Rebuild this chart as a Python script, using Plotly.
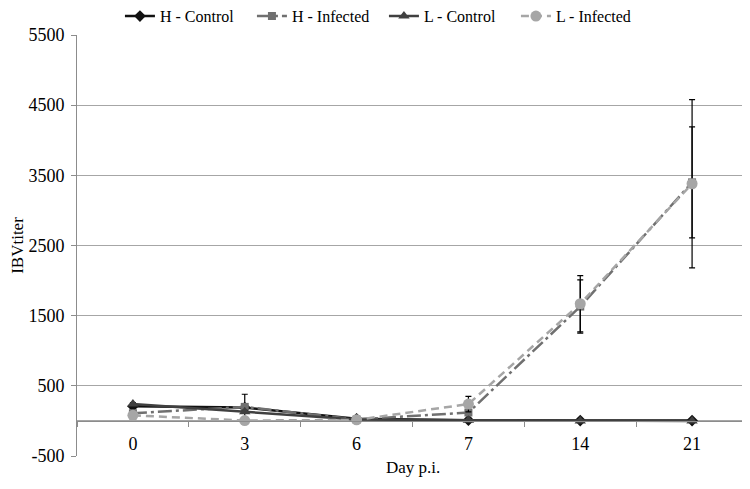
import plotly.graph_objects as go

days = ["0", "3", "6", "7", "14", "21"]
h_control = [210, 190, 30, 10, 5, 5]
h_infected = [110, 200, 20, 120, 1630, 3400]
l_control = [240, 130, 20, 10, 0, 0]
l_infected = [80, 5, 15, 240, 1670, 3380]

h_control_err = [20, 20, 5, 5, 5, 5]
h_infected_err = [30, 180, 10, 30, 380, 790]
l_control_err = [20, 20, 5, 5, 5, 5]
l_infected_err = [20, 10, 10, 110, 400, 1200]

y_ticks = [-500, 500, 1500, 2500, 3500, 4500, 5500]
y_ticktext = ["-500", "500", "1500", "2500", "3500", "4500", "5500"]

series = [
    ("H - Control", h_control, h_control_err, "#111111", "solid", "diamond", 9),
    ("H - Infected", h_infected, h_infected_err, "#707070", "14px,4px,3px,4px", "square", 8),
    ("L - Control", l_control, l_control_err, "#404040", "solid", "triangle-up", 10),
    ("L - Infected", l_infected, l_infected_err, "#a6a6a6", "8px,5px", "circle", 11),
]

FONT = "Liberation Serif, Times New Roman, serif"

fig = go.Figure()
for name, vals, errs, color, dash, sym, size in series:
    fig.add_trace(go.Scatter(
        x=days, y=vals, name=name, mode="lines+markers",
        line=dict(color=color, width=2.5, dash=dash),
        marker=dict(symbol=sym, size=size, color=color),
        error_y=dict(type="data", array=errs, visible=True, color="black", thickness=1.2, width=3),
    ))

fig.update_layout(
    width=742, height=481,
    margin=dict(l=69, r=2, t=27, b=33, autoexpand=False),
    paper_bgcolor="white", plot_bgcolor="white",
    font=dict(family=FONT, size=17, color="black"),
    showlegend=True,
    legend=dict(orientation="h", x=0.064, y=1.085, xanchor="left", yanchor="top",
                font=dict(family=FONT, size=16), entrywidth=87, entrywidthmode="pixels",
                itemwidth=30, tracegroupgap=0, bgcolor="rgba(0,0,0,0)",
                borderwidth=0),
    xaxis=dict(type="category", range=[-0.5, 5.5], anchor="free",
               position=(0 - (-500)) / 6000,
               showline=True, linecolor="#8c8c8c", linewidth=1,
               ticks="outside", tickson="boundaries", ticklen=5, tickcolor="#8c8c8c",
               showgrid=False, ticklabelstandoff=6, tickfont=dict(family=FONT, size=18)),
    yaxis=dict(range=[-500, 5500], tickmode="array", tickvals=y_ticks, ticktext=y_ticktext,
               showgrid=True,
               gridcolor="#a6a6a6", gridwidth=1, zeroline=True, zerolinecolor="#a6a6a6",
               zerolinewidth=1, showline=True, linecolor="#8c8c8c", ticks="outside",
               ticklen=5, tickcolor="#8c8c8c", tickfont=dict(family=FONT, size=18),
               ticklabelstandoff=3,
               title=dict(text="IBVtiter", font=dict(family=FONT, size=17), standoff=6)),
    annotations=[dict(text="Day p.i.", x=0.5, xref="paper", y=-0.0285, yref="paper",
                      xanchor="center", yanchor="middle", showarrow=False,
                      font=dict(family=FONT, size=17))],
)

fig.write_html("out.html")
